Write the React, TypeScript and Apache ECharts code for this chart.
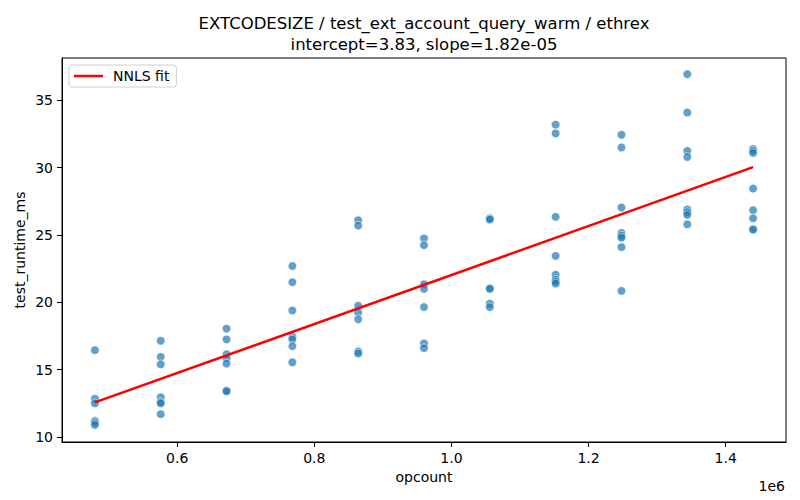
import { useEffect, useRef } from 'react';
import * as echarts from 'echarts';

const opcountLevels = [480000, 576000, 672000, 768000, 864000, 960000, 1056000, 1152000, 1248000, 1344000, 1440000];

// runtime samples (ms) read per opcount level
const runtimeByLevel = [
  [16.45, 12.85, 12.5, 11.2, 11.05, 10.9],
  [17.15, 15.95, 15.4, 12.95, 12.6, 12.5, 11.7],
  [18.05, 17.25, 16.15, 15.85, 15.45, 13.45, 13.4],
  [22.7, 21.5, 19.4, 17.45, 17.25, 16.75, 15.55],
  [26.1, 25.7, 19.75, 19.25, 18.75, 16.35, 16.2],
  [24.75, 24.25, 21.35, 21.0, 19.65, 16.95, 16.6],
  [26.25, 26.15, 21.05, 21.0, 19.9, 19.65],
  [33.2, 32.55, 26.35, 23.45, 22.05, 21.7, 21.55, 21.4],
  [32.45, 31.5, 27.05, 25.15, 24.95, 24.8, 24.1, 20.85],
  [36.95, 34.1, 31.25, 30.8, 26.9, 26.7, 26.5, 25.8],
  [31.4, 31.25, 31.1, 28.45, 26.85, 26.25, 25.45, 25.4],
];

const fitX = [480000, 1440000];
const fitY = [12.57, 30.04];

const xTicks = [600000, 800000, 1000000, 1200000, 1400000];
const yTicks = [10, 15, 20, 25, 30, 35];

const titleLines = ['EXTCODESIZE / test_ext_account_query_warm / ethrex', 'intercept=3.83, slope=1.82e-05'];

const FONT = '"DejaVu Sans", sans-serif';

export default function App() {
  const chartRef = useRef<HTMLDivElement>(null);

  useEffect(() => {
    if (!chartRef.current) return;
    const chart = echarts.init(chartRef.current, null, { renderer: 'svg' });

    const points: number[][] = [];
    opcountLevels.forEach((x, i) => {
      runtimeByLevel[i].forEach((y) => points.push([x, y]));
    });

    const option = {
      animation: false,
      textStyle: { fontFamily: FONT },
      grid: {
        left: 62,
        right: 14,
        top: 58,
        bottom: 58,
        show: true,
        borderColor: '#000',
        borderWidth: 1,
      },
      legend: {
        data: [{ name: 'NNLS fit', icon: 'rect' }],
        left: 69,
        top: 65,
        orient: 'vertical',
        itemWidth: 29,
        itemHeight: 2.5,
        padding: [4, 7, 4, 5],
        borderColor: '#d0d0d0',
        borderWidth: 1,
        borderRadius: 3,
        textStyle: { fontSize: 14, color: '#000', fontFamily: FONT, padding: [0, 0, 0, 5] },
      },
      graphic: [
        {
          type: 'text',
          x: 424,
          y: 23,
          style: { text: titleLines[0], fontSize: 16.5, fontFamily: FONT, fill: '#000', textAlign: 'center', textVerticalAlign: 'middle' },
        },
        {
          type: 'text',
          x: 424,
          y: 44,
          style: { text: titleLines[1], fontSize: 16.5, fontFamily: FONT, fill: '#000', textAlign: 'center', textVerticalAlign: 'middle' },
        },
        {
          type: 'text',
          x: 785,
          y: 486,
          style: { text: '1e6', fontSize: 14, fontFamily: FONT, fill: '#000', textAlign: 'right', textVerticalAlign: 'middle' },
        },
      ],
      xAxis: {
        type: 'value',
        min: 432000,
        max: 1488000,
        name: 'opcount',
        nameLocation: 'middle',
        nameGap: 28,
        nameTextStyle: { fontSize: 14, color: '#000', fontFamily: FONT },
        splitLine: { show: false },
        axisLine: { show: true, lineStyle: { color: '#000', width: 1 } },
        axisTick: { show: true, inside: false, length: 5, lineStyle: { color: '#000' }, customValues: xTicks },
        axisLabel: {
          color: '#000',
          fontSize: 14,
          margin: 9,
          fontFamily: FONT,
          customValues: xTicks,
          formatter: (v: number) => (v / 1e6).toFixed(1),
        },
      },
      yAxis: {
        type: 'value',
        min: 9.63,
        max: 38.15,
        name: 'test_runtime_ms',
        nameLocation: 'middle',
        nameGap: 35,
        nameMoveOverlap: false,
        nameTextStyle: { fontSize: 14, color: '#000', fontFamily: FONT },
        splitLine: { show: false },
        axisLine: { show: true, lineStyle: { color: '#000', width: 1 } },
        axisTick: { show: true, inside: false, length: 5, lineStyle: { color: '#000' }, customValues: yTicks },
        axisLabel: {
          color: '#000',
          fontSize: 14,
          margin: 9,
          fontFamily: FONT,
          customValues: yTicks,
          formatter: (v: number) => String(v),
        },
      },
      series: [
        {
          name: 'samples',
          type: 'scatter',
          data: points,
          symbolSize: 8.5,
          itemStyle: { color: '#1f77b4', opacity: 0.7, borderColor: '#fff', borderWidth: 0.8 },
          z: 2,
        },
        {
          name: 'NNLS fit',
          type: 'line',
          data: fitX.map((x, i) => [x, fitY[i]]),
          symbol: 'none',
          lineStyle: { color: '#ff0000', width: 2.5 },
          itemStyle: { color: '#ff0000' },
          z: 3,
        },
      ],
    };

    chart.setOption(option);
    return () => chart.dispose();
  }, []);

  return <div ref={chartRef} style={{ position: 'absolute', left: 0, top: 0, width: 800, height: 500 }} />;
}
